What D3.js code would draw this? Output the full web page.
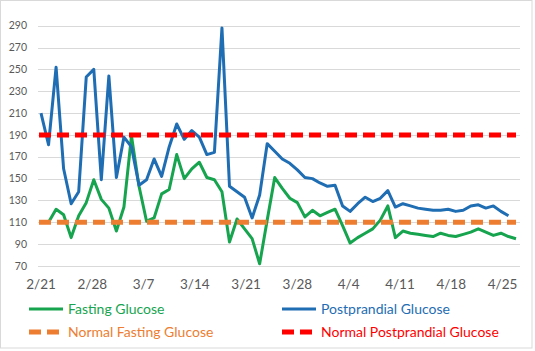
<!DOCTYPE html>
<html>
<head>
<meta charset="utf-8">
<script src="https://cdn.jsdelivr.net/npm/d3@7"></script>
<style>
  body { margin: 0; background: #fff; }
  svg { font-family: Lato, "Open Sans", sans-serif; }
</style>
</head>
<body>
<svg id="chart" width="535" height="351"></svg>
<script>
// readings, one per entry (index 0 = 2/21)
const fasting = [110, 110, 122, 117, 96, 116, 128, 149, 131, 123, 102, 124, 189, 143, 111, 114,
  136, 140, 172, 150, 159, 165, 151, 149, 138, 92, 113, 104, 95, 72, 112, 151,
  141, 132, 128, 115, 121, 116, 119, 122, 107, 91, 96, 100, 104, 112, 125, 96,
  102, 100, 99, 98, 97, 100, 98, 97, 99, 101, 104, 101, 98, 100, 97, 95];
const postprandial = [210, 181, 252, 159, 127, 138, 243, 250, 149, 244, 151, 188, 179, 144, 149, 168,
  152, 179, 200, 186, 194, 188, 172, 174, 288, 143, 138, 133, 114, 135, 182, 175,
  168, 164, 158, 151, 150, 146, 143, 144, 125, 120, 127, 133, 129, 132, 139, 124,
  127, 125, 123, 122, 121, 121, 122, 120, 121, 125, 126, 123, 125, 120, 116];
const normalFasting = 110;
const normalPostprandial = 190;
const yTicks = [70, 90, 110, 130, 150, 170, 190, 210, 230, 250, 270, 290];
const dateStart = new Date(2021, 1, 21);
const dateEnd = new Date(2021, 3, 25);

const seriesNames = ["Fasting Glucose", "Postprandial Glucose", "Normal Fasting Glucose", "Normal Postprandial Glucose"];
const colors = ["#17a44f", "#1f6db3", "#ed7d31", "#ff0000"];

const svg = d3.select("#chart");

// chart area border
svg.append("rect")
  .attr("x", 0.5).attr("y", 0.5)
  .attr("width", 531.5).attr("height", 347.5)
  .attr("fill", "none")
  .attr("stroke", "#d9d9d9");

const n = fasting.length;
let x = d3.scaleLinear().domain([0, n - 1]).range([41, 516]);
let y = d3.scaleLinear().domain([70, 290]).range([266, 25.7]);
let xDate = d3.scaleTime().domain([dateStart, dateEnd]).range([40.5, 502]);

// gridlines
svg.append("g")
  .selectAll("line")
  .data(yTicks)
  .enter()
  .append("line")
  .attr("x1", 38).attr("x2", 520)
  .attr("y1", d => Math.round(y(d)) + 0.5)
  .attr("y2", d => Math.round(y(d)) + 0.5)
  .attr("stroke", "#d9d9d9")
  .attr("stroke-width", 1);

// y labels
svg.append("g")
  .selectAll("text")
  .data(yTicks)
  .enter()
  .append("text")
  .attr("x", 27)
  .attr("y", d => y(d))
  .attr("dy", "0.35em")
  .attr("text-anchor", "end")
  .attr("font-size", "10.5px")
  .attr("fill", "#595959")
  .text(d => d);

// x labels, weekly from the first day
let xAxis = d3.axisBottom(xDate)
  .tickValues(d3.timeDay.range(dateStart, d3.timeDay.offset(dateEnd, 1), 7))
  .tickFormat(d3.timeFormat("%-m/%-d"))
  .tickSize(0);
let gx = svg.append("g")
  .attr("transform", "translate(0,276)")
  .call(xAxis);
gx.select(".domain").remove();
gx.selectAll("text")
  .attr("font-family", "Lato, 'Open Sans', sans-serif")
  .attr("font-size", "13.5px")
  .attr("fill", "#595959");

let line = d3.line()
  .x((d, i) => x(i))
  .y(d => y(d));

svg.append("path")
  .datum(fasting)
  .attr("d", line)
  .attr("fill", "none")
  .attr("stroke", colors[0])
  .attr("stroke-width", 3)
  .attr("stroke-linejoin", "round");

svg.append("path")
  .datum(postprandial)
  .attr("d", line)
  .attr("fill", "none")
  .attr("stroke", colors[1])
  .attr("stroke-width", 3)
  .attr("stroke-linejoin", "round");

// normal levels
[normalFasting, normalPostprandial].forEach((v, k) => {
  svg.append("line")
    .attr("x1", x(0) - 2).attr("x2", x(n - 1))
    .attr("y1", y(v)).attr("y2", y(v))
    .attr("stroke", colors[k + 2])
    .attr("stroke-width", 5)
    .attr("stroke-dasharray", "12 6");
});

// legend
const legendPos = [[29, 309], [282, 309], [29, 332], [282, 332]];
let lg = svg.append("g")
  .selectAll("g")
  .data(seriesNames)
  .enter()
  .append("g")
  .attr("transform", (d, i) => "translate(" + legendPos[i] + ")");

lg.append("line")
  .attr("x1", 0).attr("x2", 34)
  .attr("stroke", (d, i) => colors[i])
  .attr("stroke-width", (d, i) => i < 2 ? 3 : 5)
  .attr("stroke-dasharray", (d, i) => i < 2 ? null : "12 6");

lg.append("text")
  .attr("x", 39)
  .attr("dy", "0.35em")
  .attr("font-size", "14px")
  .attr("fill", (d, i) => colors[i])
  .text(d => d);
</script>
</body>
</html>
